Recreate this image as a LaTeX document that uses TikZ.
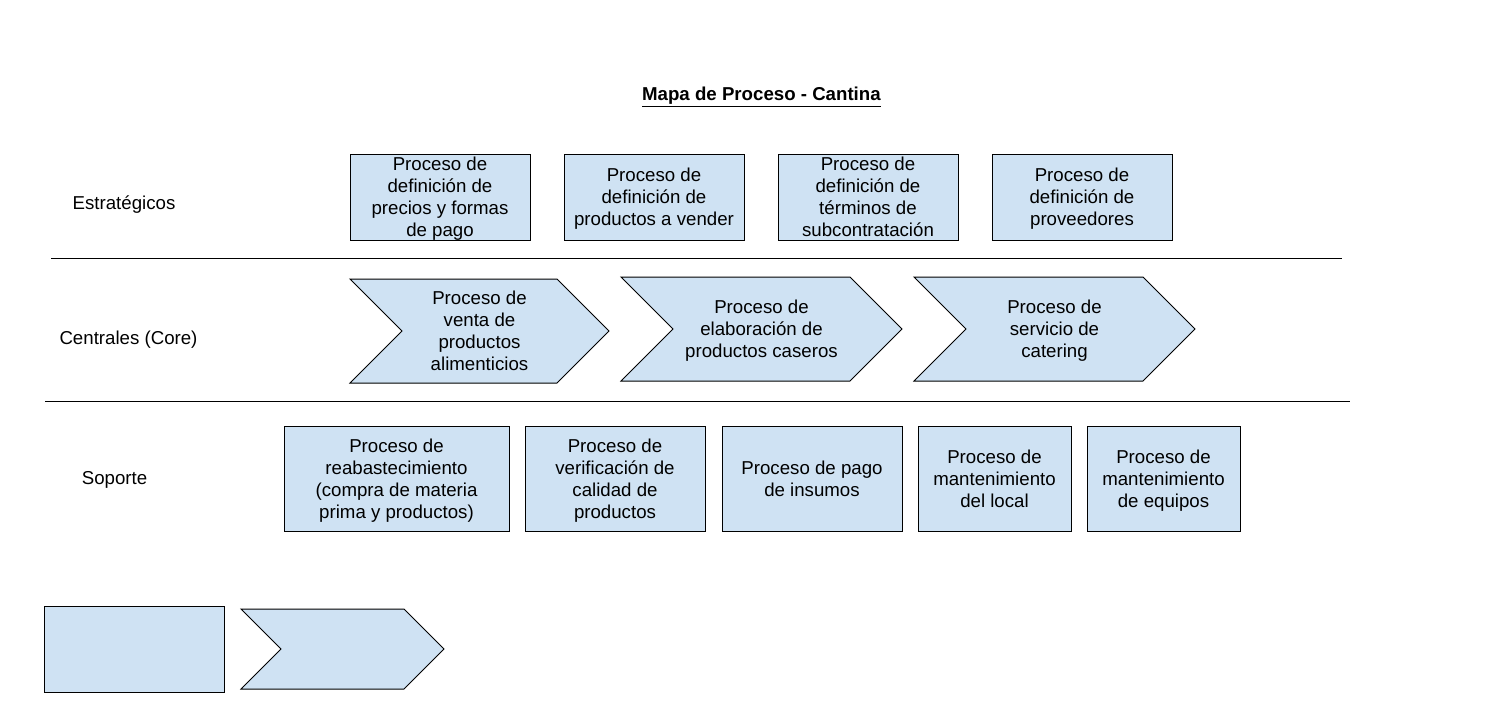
\documentclass[tikz,border=0pt]{standalone}
\usepackage{fontspec}
\setmainfont{Liberation Sans}
\usepackage{tikz}
\usetikzlibrary{shapes.symbols}
\definecolor{procblue}{HTML}{CFE2F3}
\tikzset{
  procbox/.style={draw, line width=0.75pt, fill=procblue, align=center, inner sep=0pt, text depth=-3pt},
  procarrow/.style={draw, line width=0.75pt, fill=procblue, align=center, inner sep=0pt, text depth=-3pt,
    shape=signal, signal to=east, signal from=west, signal pointer angle=90},
  lanelabel/.style={align=center}
}
\begin{document}
\begin{tikzpicture}[x=0.75pt, y=-0.75pt, every node/.style={font=\fontsize{14}{16.5}\selectfont}]
\useasboundingbox (0,0) rectangle (1486,715);
\node (title) at (761.5,97) {\underline{\textbf{Mapa de Proceso - Cantina}}};
\node [lanelabel] (estr) at (124,205) {Estratégicos};
\node [lanelabel] (core) at (128.5,340) {Centrales (Core)};
\node [lanelabel] (sop) at (114.5,480) {Soporte};
\draw [line width=0.75pt] (51,258) -- (1342,258);
\draw [line width=0.75pt] (45,401) -- (1350,401);
% estrategicos
\node [procbox, minimum width=135pt, minimum height=64.5pt] (e1) at (440,197) {Proceso de\\definición de\\precios y formas\\de pago};
\node [procbox, minimum width=135pt, minimum height=64.5pt] (e2) at (654,197) {Proceso de\\definición de\\productos a vender};
\node [procbox, minimum width=135pt, minimum height=64.5pt] (e3) at (868,197) {Proceso de\\definición de\\términos de\\subcontratación};
\node [procbox, minimum width=135pt, minimum height=64.5pt] (e4) at (1082,197) {Proceso de\\definición de\\proveedores};
% centrales
\node [procarrow, minimum width=194.25pt, minimum height=78pt] (c1) at (479.5,331) {Proceso de\\venta de\\productos\\alimenticios};
\node [procarrow, minimum width=210.75pt, minimum height=78pt] (c2) at (761.5,329) {Proceso de\\elaboración de\\productos caseros};
\node [procarrow, minimum width=210.75pt, minimum height=78pt] (c3) at (1054.5,329) {Proceso de\\servicio de\\catering};
% soporte
\node [procbox, minimum width=168.75pt, minimum height=78.75pt] (s1) at (396.5,478.5) {Proceso de\\reabastecimiento\\(compra de materia\\prima y productos)};
\node [procbox, minimum width=135pt, minimum height=78.75pt] (s2) at (615,478.5) {Proceso de\\verificación de\\calidad de\\productos};
\node [procbox, minimum width=135pt, minimum height=78.75pt] (s3) at (812,478.5) {Proceso de pago\\de insumos};
\node [procbox, minimum width=114.75pt, minimum height=78.75pt] (s4) at (994.5,478.5) {Proceso de\\mantenimiento\\del local};
\node [procbox, minimum width=114.75pt, minimum height=78.75pt] (s5) at (1163.5,478.5) {Proceso de\\mantenimiento\\de equipos};
% leyenda
\node [procbox, minimum width=135pt, minimum height=64.5pt] (l1) at (134,649) {};
\node [procarrow, minimum width=152.25pt, minimum height=60pt] (l2) at (342.5,649) {};
\end{tikzpicture}
\end{document}
